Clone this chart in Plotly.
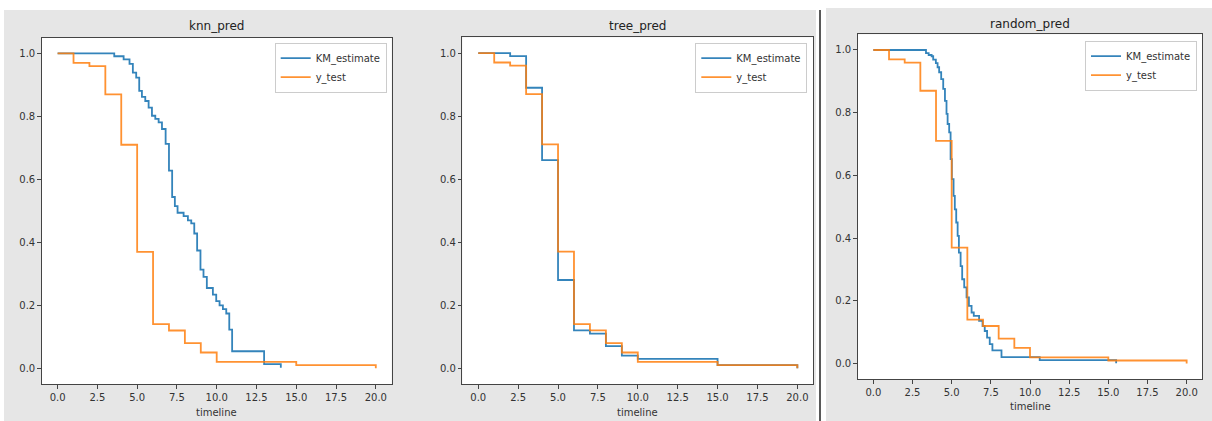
import plotly.graph_objects as go

# ---------------- data ----------------
y_test_times = [0, 1, 2, 3, 4, 5, 6, 7, 8, 9, 10, 15, 20]
y_test_surv = [1.0, 0.97, 0.96, 0.87, 0.71, 0.37, 0.14, 0.12, 0.08, 0.05, 0.02, 0.01, 0.0]

knn_times = [0, 3.56, 4.15, 4.52, 4.73, 4.94, 5.13, 5.3, 5.51, 5.72, 5.93, 6.14, 6.35, 6.56,
             6.79, 7.0, 7.2, 7.37, 7.54, 7.92, 8.19, 8.4, 8.59, 8.77, 8.98, 9.17, 9.38, 9.76,
             9.97, 10.18, 10.39, 10.6, 10.79, 10.97, 12.98, 14.03]
knn_surv = [1.0, 0.991, 0.981, 0.967, 0.939, 0.923, 0.881, 0.862, 0.849, 0.828, 0.802, 0.792,
            0.781, 0.760, 0.713, 0.628, 0.544, 0.515, 0.494, 0.483, 0.470, 0.460, 0.428, 0.374,
            0.313, 0.290, 0.255, 0.234, 0.213, 0.200, 0.188, 0.174, 0.123, 0.054, 0.013, 0.002]

tree_times = [0, 2, 3, 4, 5, 6, 7, 8, 9, 10, 15, 20]
tree_surv = [1.0, 0.99, 0.89, 0.66, 0.28, 0.12, 0.11, 0.07, 0.04, 0.03, 0.01, 0.0]

random_times = [0, 3.36, 3.53, 3.72, 3.82, 3.99, 4.10, 4.2, 4.33, 4.46, 4.57, 4.67, 4.74, 4.84,
                4.93, 5.01, 5.12, 5.2, 5.29, 5.38, 5.46, 5.57, 5.67, 5.8, 5.95, 6.1, 6.27, 6.41,
                6.75, 6.97, 7.11, 7.26, 7.43, 7.6, 8.18, 10.62, 15.5]
random_surv = [1.0, 0.990, 0.984, 0.980, 0.969, 0.958, 0.945, 0.929, 0.907, 0.876, 0.838, 0.796,
               0.764, 0.737, 0.652, 0.588, 0.535, 0.492, 0.450, 0.407, 0.354, 0.311, 0.269, 0.243,
               0.211, 0.184, 0.163, 0.152, 0.136, 0.120, 0.104, 0.083, 0.062, 0.042, 0.021, 0.011,
               0.001]

panel_titles = ["knn_pred", "tree_pred", "random_pred"]
x_label = "timeline"
series_names = ["KM_estimate", "y_test"]
x_ticks = [0, 2.5, 5, 7.5, 10, 12.5, 15, 17.5, 20]
y_ticks = [0.0, 0.2, 0.4, 0.6, 0.8, 1.0]

# ---------------- layout geometry (pixels) ----------------
W, H = 1212, 421
panels = [
    dict(x0=41.7, x1=391.7, y0=37.7, y1=384.0, times=knn_times, surv=knn_surv,
         leg=(386.7, 42.7), title_y=25.7, xl_y=412),
    dict(x0=462.3, x1=813.3, y0=37.3, y1=384.0, times=tree_times, surv=tree_surv,
         leg=(807.3, 42.7), title_y=25.7, xl_y=412),
    dict(x0=857.7, x1=1202.3, y0=34.3, y1=379.3, times=random_times, surv=random_surv,
         leg=(1197.0, 40.7), title_y=24.3, xl_y=406.7),
]

BLUE = "#1f77b4"
ORANGE = "#ff7f0e"
FONT = "DejaVu Sans"
TXT = "#333333"
FRAME = "#444444"

fig = go.Figure()
layout = dict(
    width=W, height=H, margin=dict(l=0, r=0, t=0, b=0, autoexpand=False),
    paper_bgcolor="white", plot_bgcolor="white", showlegend=True,
    font=dict(family=FONT, size=10, color=TXT),
)
shapes = [
    dict(type="rect", xref="paper", yref="paper", x0=4 / W, x1=816 / W, y0=0, y1=1 - 10 / H,
         fillcolor="#e6e6e6", line=dict(width=0), layer="below"),
    dict(type="rect", xref="paper", yref="paper", x0=826 / W, x1=1, y0=0, y1=1 - 8 / H,
         fillcolor="#e6e6e6", line=dict(width=0), layer="below"),
    dict(type="line", xref="paper", yref="paper", x0=820 / W, x1=820 / W, y0=0, y1=1 - 10 / H,
         line=dict(color="#222222", width=1.5), layer="below"),
]
annotations = []

for i, p in enumerate(panels):
    k = "" if i == 0 else str(i + 1)
    xa, ya = "x" + k, "y" + k
    leg = "legend" + k
    fig.add_trace(go.Scatter(x=p["times"], y=p["surv"], mode="lines", line_shape="hv",
                             line=dict(color=BLUE, width=1.8), opacity=0.9,
                             name=series_names[0], xaxis=xa, yaxis=ya, legend=leg))
    fig.add_trace(go.Scatter(x=y_test_times, y=y_test_surv, mode="lines", line_shape="hv",
                             line=dict(color=ORANGE, width=1.8), opacity=0.85,
                             name=series_names[1], xaxis=xa, yaxis=ya, legend=leg))
    dom_x = [p["x0"] / W, p["x1"] / W]
    dom_y = [1 - p["y1"] / H, 1 - p["y0"] / H]
    axcommon = dict(showgrid=False, zeroline=False, showline=True, linecolor=FRAME, linewidth=1,
                    mirror=True, ticks="outside", ticklen=3.5, tickwidth=0.8, tickcolor=FRAME,
                    tickfont=dict(family=FONT, size=10, color=TXT))
    layout["xaxis" + k] = dict(domain=dom_x, range=[-1, 21], tickvals=x_ticks,
                               ticktext=[f"{v:.1f}" for v in x_ticks], anchor=ya, **axcommon)
    layout["yaxis" + k] = dict(domain=dom_y, range=[-0.05, 1.05], tickvals=y_ticks,
                               ticktext=[f"{v:.1f}" for v in y_ticks], anchor=xa, **axcommon)
    layout[leg] = dict(x=p["leg"][0] / W, y=1 - p["leg"][1] / H, xanchor="right", yanchor="top",
                       bgcolor="white", bordercolor="#cccccc", borderwidth=1,
                       font=dict(family=FONT, size=10, color=TXT), itemwidth=30,
                       tracegroupgap=0)
    shapes.append(dict(type="rect", xref="paper", yref="paper", x0=dom_x[0], x1=dom_x[1],
                       y0=dom_y[0], y1=dom_y[1], fillcolor="white", line=dict(width=0),
                       layer="below"))
    cx = (p["x0"] + p["x1"]) / 2 / W
    annotations.append(dict(text=panel_titles[i], x=cx, y=1 - p["title_y"] / H, xref="paper",
                            yref="paper", showarrow=False, xanchor="center", yanchor="middle",
                            font=dict(family=FONT, size=12, color="#222222")))
    annotations.append(dict(text=x_label, x=cx, y=1 - p["xl_y"] / H, xref="paper",
                            yref="paper", showarrow=False, xanchor="center", yanchor="middle",
                            font=dict(family=FONT, size=10, color=TXT)))

layout["shapes"] = shapes
layout["annotations"] = annotations
fig.update_layout(**layout)
fig.write_html("out.html", config={"displayModeBar": False},
               post_script="document.body.style.margin='0';document.body.style.overflow='hidden';")
